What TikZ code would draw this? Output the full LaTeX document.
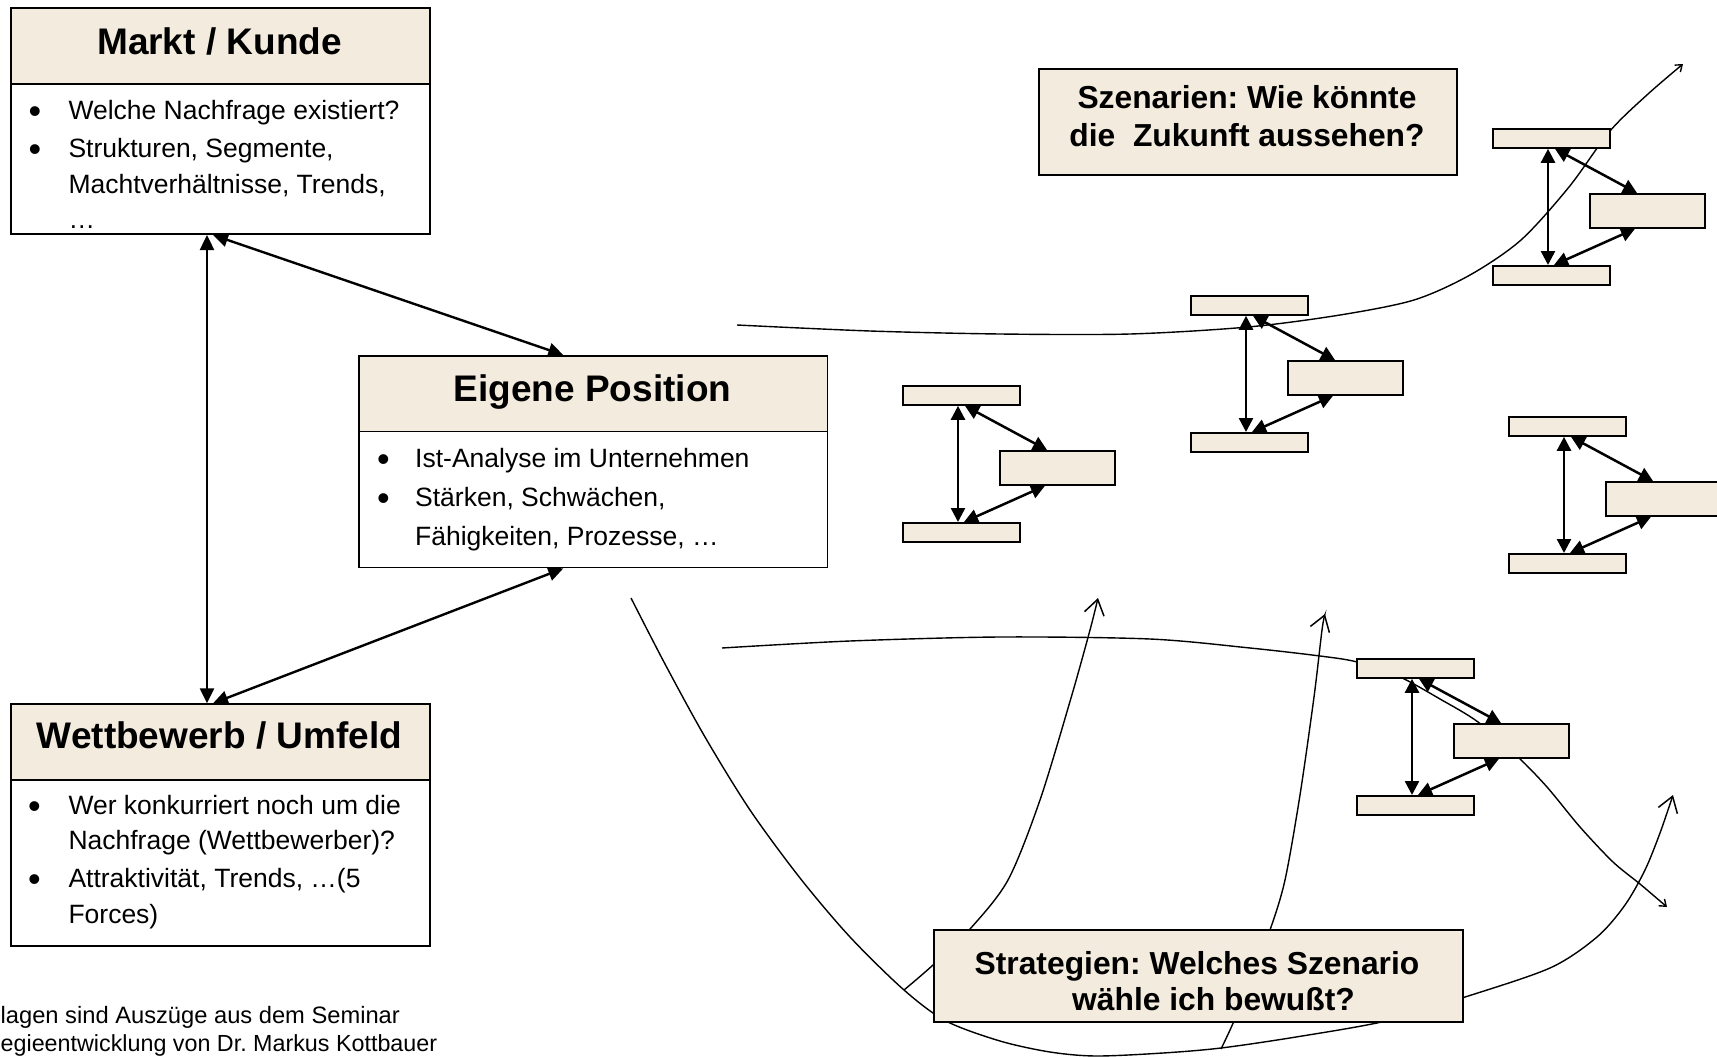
\documentclass[tikz,border=0pt]{standalone}
\usepackage{fontspec}
\setmainfont{Liberation Sans}
\usetikzlibrary{arrows.meta}
\definecolor{beige}{RGB}{243,235,221}
\newcommand\myBody{\fontsize{26.5pt}{30pt}\selectfont}
\newcommand\myBul{\fontsize{36pt}{36pt}\selectfont}
\newcommand\myHdr{\fontsize{37pt}{42pt}\selectfont\bfseries}
\newcommand\myQ{\fontsize{31.8pt}{36pt}\selectfont\bfseries}
\newcommand\myFoot{\fontsize{23.7pt}{28pt}\selectfont}
\frenchspacing
\begin{document}
\begin{tikzpicture}[x=1pt,y=-1pt,
  boxline/.style={draw=black,line width=1.7pt,inner sep=0pt,anchor=north west},
  headbox/.style={boxline,fill=beige},
  bodybox/.style={boxline,fill=white},
  scenBar/.style={draw=black,line width=1.8pt,fill=beige,inner sep=0pt,anchor=north west,minimum width=117pt,minimum height=19pt},
  scenBox/.style={draw=black,line width=1.8pt,fill=beige,inner sep=0pt,anchor=north west,minimum width=115pt,minimum height=34pt},
  bigarrow/.style={line width=2.4pt,{Triangle[length=15pt,width=14pt]}-{Triangle[length=15pt,width=14pt]}},
  smallarrow/.style={line width=2.5pt,{Triangle[length=14pt,width=14pt]}-{Triangle[length=14pt,width=14pt]}},
  thincurve/.style={line width=1.4pt},
  openhead/.style={-{Straight Barb[length=15pt,width=20pt,line width=1.5pt]}},
  tinyhead/.style={-{Straight Barb[length=6pt,width=9pt,line width=1.4pt]}},
  hdrtext/.style={anchor=base,inner sep=0pt,font=\myHdr},
  qtext/.style={anchor=base,inner sep=0pt,font=\myQ},
  bodytext/.style={anchor=base west,inner sep=0pt,font=\myBody},
  bultext/.style={anchor=base,inner sep=0pt,font=\myBul},
  foottext/.style={anchor=base west,inner sep=0pt,font=\myFoot}
]
\useasboundingbox (0,0) rectangle (1717,1057);
\fill[white] (0,0) rectangle (1717,1057);

% ---------- free curves (drawn below the boxes)
\draw[thincurve,tinyhead] plot[smooth] coordinates {(737,325) (870,331) (1000,334) (1130,334) (1248,327) (1340,315) (1414,300) (1470,275) (1521,240) (1569,187) (1610,131) (1648,94) (1683,64)};
\draw[thincurve,tinyhead] plot[smooth] coordinates {(722,648) (850,641) (1000,637) (1150,639) (1250,648) (1320,656) (1357,662) (1400,677) (1440,699) (1478,722) (1518,757) (1547,787) (1580,827) (1613,862) (1640,884) (1667,907)};
\draw[thincurve,openhead] plot[smooth] coordinates {(631,598) (665,664) (705,737) (750,810) (800,878) (850,937) (904,990) (946,1021) (1000,1041) (1050,1052) (1096,1056) (1163,1053) (1221,1048) (1296,1037) (1386,1021) (1462,998) (1550,968) (1597,937) (1625,905) (1645,870) (1660,833) (1673,795)};
\draw[thincurve,openhead] plot[smooth] coordinates {(904,990) (933,965) (970,929) (1008,880) (1040,800) (1071,698) (1090,630) (1098,598)};
\draw[thincurve,openhead] plot[smooth] coordinates {(1221,1049) (1234,1021) (1252,975) (1270,930) (1285,880) (1300,795) (1314,697) (1322,630) (1325,614)};

% ---------- Markt / Kunde
\node[headbox,minimum width=419pt,minimum height=76pt] (markt) at (10,7.3) {};
\node[bodybox,minimum width=419pt,minimum height=150pt] (marktBody) at (10,83.3) {};
\node[hdrtext] (marktT) at (219.5,54.3) {Markt / Kunde};
\node[bultext] (mb1) at (35,123.5) {•};
\node[bultext] (mb2) at (35,161) {•};
\node[bodytext] (ml1) at (68.3,119.5) {Welche Nachfrage existiert?};
\node[bodytext] (ml2) at (68.3,157) {Strukturen, Segmente,};
\node[bodytext] (ml3) at (68.3,193.3) {Machtverhältnisse, Trends,};
\node[bodytext] (ml4) at (68.3,228.5) {…};

% ---------- Wettbewerb / Umfeld
\node[headbox,minimum width=419pt,minimum height=76pt] (wett) at (10,703.3) {};
\node[bodybox,minimum width=419pt,minimum height=166pt] (wettBody) at (10,779.3) {};
\node[hdrtext] (wettT) at (219.5,748.3) {Wettbewerb / Umfeld};
\node[bultext] (wb1) at (34.5,818) {•};
\node[bultext] (wb2) at (34.5,891.7) {•};
\node[bodytext] (wl1) at (68.3,814) {Wer konkurriert noch um die};
\node[bodytext] (wl2) at (68.3,849.3) {Nachfrage (Wettbewerber)?};
\node[bodytext] (wl3) at (68.3,887.7) {Attraktivität, Trends, …(5};
\node[bodytext] (wl4) at (68.3,923.3) {Forces)};

% ---------- Eigene Position
\node[headbox,minimum width=468.4pt,minimum height=75.7pt] (eigen) at (358.3,355) {};
\node[bodybox,minimum width=468.4pt,minimum height=136pt] (eigenBody) at (358.3,430.7) {};
\node[hdrtext] (eigenT) at (592.5,401.7) {Eigene Position};
\node[bultext] (eb1) at (383.5,471.7) {•};
\node[bultext] (eb2) at (383.5,510.7) {•};
\node[bodytext] (el1) at (415,467.7) {Ist-Analyse im Unternehmen};
\node[bodytext] (el2) at (415,506.7) {Stärken, Schwächen,};
\node[bodytext] (el3) at (415,545) {Fähigkeiten, Prozesse, …};

% ---------- arrows between the three boxes
\draw[bigarrow] ([xshift=197pt]marktBody.south west) -- ([xshift=197pt]wett.north west);
\draw[bigarrow] ([xshift=203pt]marktBody.south west) -- ([xshift=205pt]eigen.north west);
\draw[bigarrow] ([xshift=205pt]eigenBody.south west) -- ([xshift=203pt]wett.north west);

% ---------- Szenarien
\node[headbox,minimum width=418pt,minimum height=106pt] (szen) at (1038,68) {};
\node[qtext] (szen1) at (1247,108.3) {Szenarien: Wie könnte};
\node[qtext] (szen2) at (1247,146) {die\ \ Zukunft aussehen?};

% ---------- scenario triangles
\foreach \g/\tx/\ty in {A/902/385, B/1190/295, C/1492/128, D/1508/416, E/1356/658} {
  \node[scenBar] (\g-top) at (\tx,\ty) {};
  \node[scenBox] (\g-right) at (\tx+97,\ty+65) {};
  \node[scenBar] (\g-bot) at (\tx,\ty+137) {};
  \draw[smallarrow] ([xshift=56pt]\g-top.south west) -- ([xshift=56pt]\g-bot.north west);
  \draw[smallarrow] ([xshift=63pt]\g-top.south west) -- ([xshift=48pt]\g-right.north west);
  \draw[smallarrow] ([xshift=46pt]\g-right.south west) -- ([xshift=62pt]\g-bot.north west);
}

% ---------- Strategien
\node[headbox,minimum width=529pt,minimum height=92pt] (strat) at (933,929) {};
\node[qtext] (strat1) at (1197,974) {Strategien: Welches Szenario};
\node[qtext] (strat2) at (1213.5,1010) {wähle ich bewußt?};

% ---------- footer
\node[foottext] (foot1) at (0.5,1023.3) {lagen sind Auszüge aus dem Seminar};
\node[foottext,font=\fontsize{23.3pt}{28pt}\selectfont] (foot2) at (0.5,1051) {egieentwicklung von Dr. Markus Kottbauer};
\end{tikzpicture}
\end{document}
